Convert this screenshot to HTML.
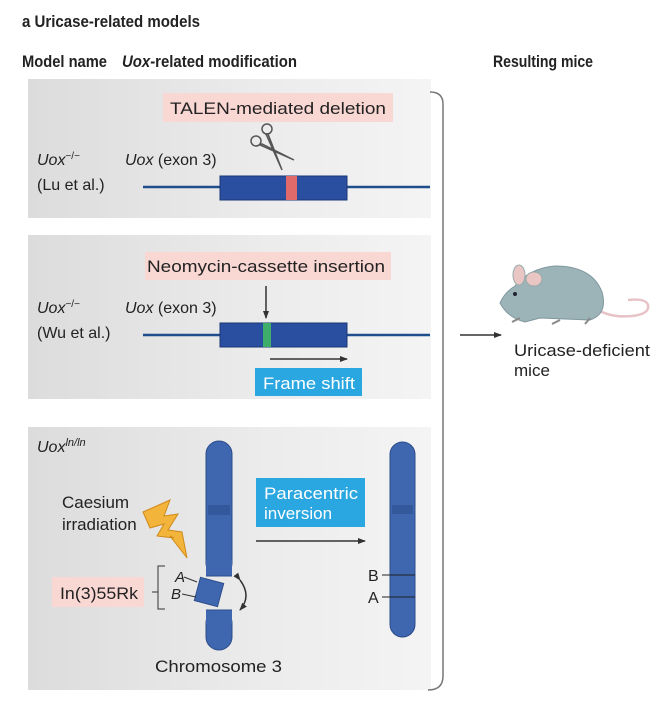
<!DOCTYPE html>
<html><head><meta charset="utf-8"><style>
html,body{margin:0;padding:0;background:#fff;}
svg{display:block;font-family:"Liberation Sans",sans-serif;}
</style></head><body>
<svg width="670" height="714" viewBox="0 0 670 714" xmlns="http://www.w3.org/2000/svg">
<defs>
<linearGradient id="pg" x1="0" x2="1" y1="0" y2="0">
<stop offset="0" stop-color="#dcdcdc"/><stop offset="0.6" stop-color="#ececec"/><stop offset="1" stop-color="#f4f4f4"/>
</linearGradient>
<marker id="ah" markerWidth="8" markerHeight="8" refX="7" refY="4" orient="auto" markerUnits="userSpaceOnUse">
<path d="M0,1 L8,4 L0,7 z" fill="#333"/></marker>
</defs>
<!-- headers -->
<text x="22" y="27" font-size="17" font-weight="bold" fill="#222" textLength="178" lengthAdjust="spacingAndGlyphs">a  Uricase-related models</text>
<text x="22" y="67" font-size="17" font-weight="bold" fill="#222" textLength="85" lengthAdjust="spacingAndGlyphs">Model name</text>
<text x="122" y="67" font-size="17" font-weight="bold" fill="#222" textLength="175" lengthAdjust="spacingAndGlyphs"><tspan font-style="italic">Uox</tspan>-related modification</text>
<text x="493" y="67" font-size="17" font-weight="bold" fill="#222" textLength="100" lengthAdjust="spacingAndGlyphs">Resulting mice</text>

<!-- panels -->
<rect x="28" y="79" width="403" height="139" fill="url(#pg)"/>
<rect x="28" y="235" width="403" height="164" fill="url(#pg)"/>
<rect x="28" y="427" width="403" height="263" fill="url(#pg)"/>

<!-- bracket -->
<path d="M430,92 Q443,92 443,104 L443,676 Q443,690 428,690" fill="none" stroke="#777" stroke-width="1.5"/>

<!-- panel 1 -->
<rect x="163" y="93" width="230" height="29" fill="#f9d7d3"/>
<text x="170" y="114" font-size="17" fill="#222" textLength="216" lengthAdjust="spacingAndGlyphs">TALEN-mediated deletion</text>
<text x="37" y="165" font-size="16" fill="#222"><tspan font-style="italic">Uox</tspan><tspan font-size="10" dy="-6">−/−</tspan></text>
<text x="37" y="190" font-size="16" fill="#222">(Lu et al.)</text>
<text x="125" y="165" font-size="16" fill="#222"><tspan font-style="italic">Uox</tspan> (exon 3)</text>
<line x1="143" y1="187" x2="430" y2="187" stroke="#1f4e8c" stroke-width="2.5"/>
<rect x="220" y="176" width="127" height="24" fill="#2a4fa0" stroke="#1a3575" stroke-width="1"/>
<rect x="286" y="176" width="11" height="24" fill="#e06a6a"/>
<!-- scissors -->
<g stroke="#555" stroke-width="1.5" fill="#9aa">
<circle cx="256" cy="141" r="5" fill="none"/>
<circle cx="267" cy="129" r="5" fill="none"/>
<path d="M260,145 L294,160 L262,144 z"/>
<path d="M268,134 L282,170 L266,134 z"/>
</g>

<!-- panel 2 -->
<rect x="145" y="252" width="246" height="28" fill="#f9d7d3"/>
<text x="147" y="272" font-size="17" fill="#222" textLength="238" lengthAdjust="spacingAndGlyphs">Neomycin-cassette insertion</text>
<line x1="266" y1="286" x2="266" y2="318" stroke="#333" stroke-width="1.5" marker-end="url(#ah)"/>
<text x="37" y="313" font-size="16" fill="#222"><tspan font-style="italic">Uox</tspan><tspan font-size="10" dy="-6">−/−</tspan></text>
<text x="37" y="338" font-size="16" fill="#222">(Wu et al.)</text>
<text x="125" y="313" font-size="16" fill="#222"><tspan font-style="italic">Uox</tspan> (exon 3)</text>
<line x1="143" y1="335" x2="430" y2="335" stroke="#1f4e8c" stroke-width="2.5"/>
<rect x="220" y="323" width="127" height="24" fill="#2a4fa0" stroke="#1a3575" stroke-width="1"/>
<rect x="263" y="323" width="8" height="24" fill="#3fae6a"/>
<line x1="270" y1="359" x2="347" y2="359" stroke="#333" stroke-width="1.5" marker-end="url(#ah)"/>
<rect x="255" y="368" width="107" height="28" fill="#2aa6e0"/>
<text x="263" y="389" font-size="17" fill="#fff" textLength="92" lengthAdjust="spacingAndGlyphs">Frame shift</text>

<!-- panel 3 -->
<text x="37" y="452" font-size="16" fill="#222"><tspan font-style="italic">Uox</tspan><tspan font-size="11" dy="-6" font-style="italic">ln/ln</tspan></text>
<rect x="206" y="441" width="26" height="135" rx="13" fill="#3e67b0" stroke="#2c4c8a"/>
<rect x="206" y="560" width="26" height="16" fill="#3e67b0"/>
<line x1="206" y1="576" x2="232" y2="576" stroke="#2c4c8a"/>
<rect x="206" y="610" width="26" height="40" rx="13" fill="#3e67b0" stroke="#2c4c8a"/>
<rect x="206" y="610" width="26" height="14" fill="#3e67b0"/>
<line x1="206" y1="610" x2="232" y2="610" stroke="#2c4c8a"/>
<rect x="208" y="505" width="22" height="10" fill="#34589c"/>
<rect x="197" y="580" width="24" height="24" fill="#3e67b0" stroke="#2c4c8a" transform="rotate(15 209 592)"/>
<path d="M240,580 Q252,596 240,610" fill="none" stroke="#333" stroke-width="1.5" marker-start="url(#ah)" marker-end="url(#ah)"/>
<text x="175" y="582" font-size="15" font-style="italic" fill="#222">A</text>
<text x="171" y="599" font-size="15" font-style="italic" fill="#222">B</text>
<line x1="184" y1="577" x2="197" y2="582" stroke="#333"/>
<line x1="182" y1="594" x2="196" y2="597" stroke="#333"/>
<path d="M165,566 L158,566 L158,609 L165,609 M158,592 L152,592" fill="none" stroke="#333" stroke-width="1"/>
<rect x="52" y="577" width="92" height="30" fill="#f9d7d3"/>
<text x="60" y="599" font-size="17" fill="#222" textLength="78" lengthAdjust="spacingAndGlyphs">In(3)55Rk</text>
<text x="62" y="508" font-size="17" fill="#222">Caesium</text>
<text x="62" y="530" font-size="17" fill="#222">irradiation</text>
<path d="M143,512 L170,500 L164,516 L178,514 L168,530 L182,532 L187,558 L170,536 L174,538 L157,536 L164,524 L150,528 z" fill="#f2b43a" stroke="#d08a1a" stroke-width="1"/>
<text x="155" y="672" font-size="17" fill="#222" textLength="127" lengthAdjust="spacingAndGlyphs">Chromosome 3</text>
<rect x="256" y="478" width="109" height="49" fill="#2aa6e0"/>
<text x="264" y="499" font-size="17" fill="#fff" textLength="94" lengthAdjust="spacingAndGlyphs">Paracentric</text>
<text x="264" y="519" font-size="17" fill="#fff">inversion</text>
<line x1="256" y1="541" x2="365" y2="541" stroke="#333" stroke-width="1.5" marker-end="url(#ah)"/>
<rect x="390" y="442" width="25" height="195" rx="12.5" fill="#3e67b0" stroke="#2c4c8a"/>
<rect x="392" y="505" width="21" height="9" fill="#34589c"/>
<line x1="382" y1="575" x2="415" y2="575" stroke="#222"/>
<line x1="382" y1="597" x2="415" y2="597" stroke="#222"/>
<text x="368" y="581" font-size="16" fill="#222">B</text>
<text x="368" y="603" font-size="16" fill="#222">A</text>

<!-- right side -->
<line x1="460" y1="335" x2="501" y2="335" stroke="#333" stroke-width="1.5" marker-end="url(#ah)"/>
<text x="514" y="356" font-size="17" fill="#222" textLength="136" lengthAdjust="spacingAndGlyphs">Uricase-deficient</text>
<text x="514" y="376" font-size="17" fill="#222">mice</text>
<g>
<path d="M598,310 Q612,318 632,316 Q650,314 648,305 Q646,298 628,300" fill="none" stroke="#e7c2c6" stroke-width="2.5"/>
<path d="M500,303 Q505,292 515,286 Q530,268 555,266 Q592,266 602,292 Q608,314 590,320 L540,318 L525,322 Q508,318 500,303 z" fill="#9cb3b8" stroke="#7f989e"/>
<ellipse cx="519" cy="275" rx="6" ry="10" fill="#e9c6c3" stroke="#9aa"/>
<ellipse cx="534" cy="279" rx="8" ry="7" fill="#e9c6c3" stroke="#9aa"/>
<circle cx="515" cy="294" r="2" fill="#223"/>
<path d="M520,318 L512,322 M560,320 L552,324 M590,318 L585,324" stroke="#888" stroke-width="2"/>
</g>
</svg>
</body></html>
